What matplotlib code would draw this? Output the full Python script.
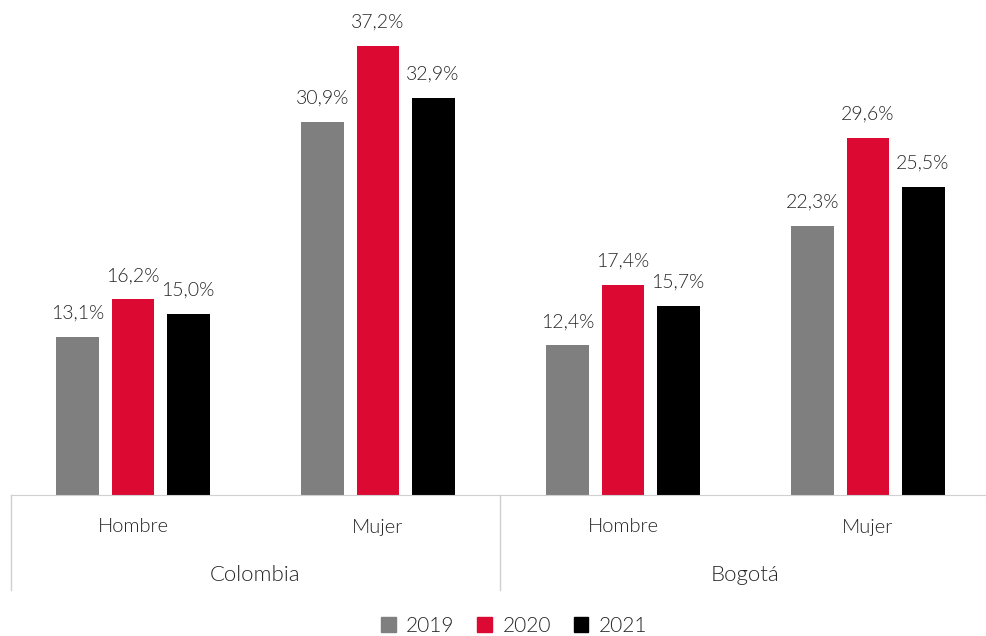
import matplotlib.pyplot as plt
import numpy as np
from matplotlib.patches import Patch
from matplotlib.transforms import blended_transform_factory

plt.rcParams['font.family'] = ['Lato', 'DejaVu Sans']
plt.rcParams['font.weight'] = 300

groups = ["Colombia", "Bogotá"]
sexes = ["Hombre", "Mujer"]
years = ["2019", "2020", "2021"]
v2019 = [13.1, 30.9, 12.4, 22.3]
v2020 = [16.2, 37.2, 17.4, 29.6]
v2021 = [15.0, 32.9, 15.7, 25.5]

colors = ['#7f7f7f', '#dc0a33', '#000000']
txt = '#262626'
line = '#d0d0d0'

fig = plt.figure(figsize=(9.87, 6.36), dpi=100)
ax = fig.add_axes([10.5/987, 141/636, 1 - 10.5/987, 482.8/636])

x = np.arange(4)
w = 0.1755
step = 0.2245
for i, vals in enumerate([v2019, v2020, v2021]):
	pos = x + (i-1)*step
	ax.bar(pos, vals, width=w, color=colors[i])
	for p, v in zip(pos, vals):
		ax.annotate(f"{v:.1f}%".replace('.', ','), (p, v), xytext=(0, 11),
			textcoords='offset points', ha='center', va='bottom',
			fontsize=14, color=txt)

ax.set_xlim(-0.5, -0.5 + 976.5/245)
ax.set_ylim(0, 40)
for s in ['top', 'right', 'left']:
	ax.spines[s].set_visible(False)
ax.spines['bottom'].set_color(line)
ax.set_xticks([])
ax.set_yticks([])

tr = blended_transform_factory(ax.transData, ax.transAxes)
h = 482.8
for k in range(4):
	ax.text(x[k], -32/h, sexes[k % 2], transform=tr, ha='center', va='center',
		fontsize=14.5, color=txt)
for g in range(2):
	ax.text(0.5 + 2*g, -80/h, groups[g], transform=tr, ha='center', va='center',
		fontsize=16, color=txt)
for xs in [-0.5, 1.5, 3.5]:
	ax.plot([xs, xs], [0, -95/h], transform=tr, color=line, lw=1, clip_on=False)

handles = [Patch(color=c, label=y) for c, y in zip(colors, years)]
fig.legend(handles=handles, loc='center', bbox_to_anchor=(0.521, 10/636), ncol=3,
	frameon=False, fontsize=15, labelcolor=txt, handlelength=0.7, handleheight=0.7,
	handletextpad=0.5, columnspacing=1.1)

plt.savefig("out.png", dpi=100)
